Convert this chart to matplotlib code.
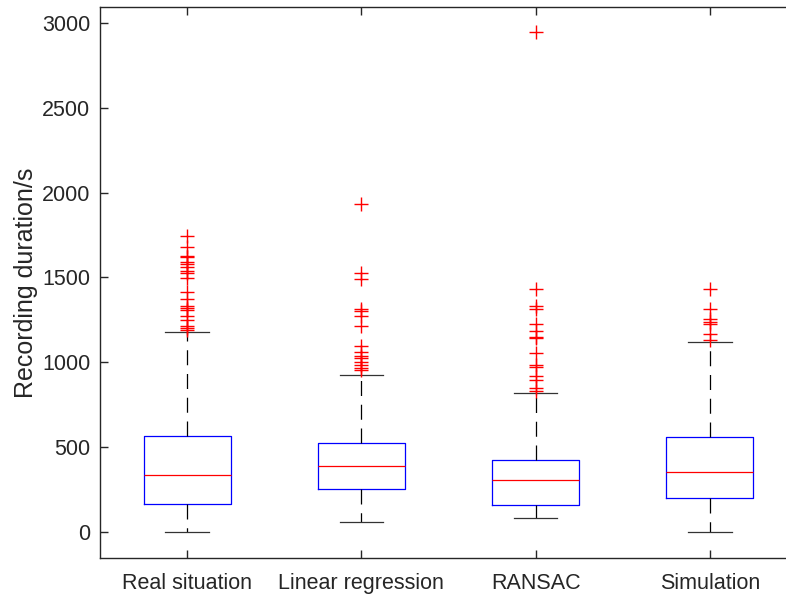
import matplotlib.pyplot as plt
import numpy as np

plt.rcParams['font.family'] = ['Liberation Sans', 'DejaVu Sans']

labels = ['Real situation', 'Linear regression', 'RANSAC', 'Simulation']
q1 = [165, 255, 162, 203]
med = [339, 388, 310, 355]
q3 = [569, 524, 424, 562]
whislo = [0, 61, 82, 0]
whishi = [1179, 926, 818, 1118]
fliers = [
    [1744, 1681, 1628, 1618, 1589, 1577, 1563, 1540, 1524, 1495, 1416, 1373,
     1334, 1322, 1308, 1273, 1249, 1214, 1201, 1191],
    [1932, 1528, 1489, 1314, 1304, 1273, 1216, 1098, 1063, 1039, 1024, 1004,
     985, 969, 955],
    [2945, 1430, 1334, 1312, 1224, 1185, 1151, 1142, 1057, 985, 971, 920,
     896, 848, 833],
    [1432, 1314, 1254, 1240, 1226, 1165, 1132],
]

stats = []
for i in range(len(labels)):
    stats.append(dict(label=labels[i], q1=q1[i], med=med[i], q3=q3[i],
                      whislo=whislo[i], whishi=whishi[i], fliers=fliers[i]))

fig = plt.figure(figsize=(7.86, 5.95), dpi=100)
ax = fig.add_axes([100 / 786, 37 / 595, 697 / 786, 551 / 595])

ax.bxp(stats, widths=0.5,
       boxprops=dict(color='#0000ff', linewidth=0.9),
       medianprops=dict(color='#ff0000', linewidth=0.9),
       whiskerprops=dict(color='black', linewidth=0.9, linestyle=(0, (12, 7))),
       capprops=dict(color='#333333', linewidth=0.9),
       flierprops=dict(marker='+', markeredgecolor='#ff0000', markersize=10,
                       markeredgewidth=1.0, linestyle='none'))

ax.set_xlim(0.5, 4.5)
ax.set_ylim(-151, 3092)
ax.set_yticks(np.arange(0, 3001, 500))
ax.set_xticks([1, 2, 3, 4])
ax.set_xticklabels(labels)
ax.set_ylabel('Recording duration/s', fontsize=18, color='#262626', labelpad=3)
ax.tick_params(direction='in', length=6, width=1, colors='#262626',
               labelsize=15.5, top=True, right=True, pad=7)
ax.tick_params(axis='x', pad=11)
for s in ax.spines.values():
    s.set_color('#262626')
    s.set_linewidth(1.0)

plt.savefig('out.png', dpi=100)
